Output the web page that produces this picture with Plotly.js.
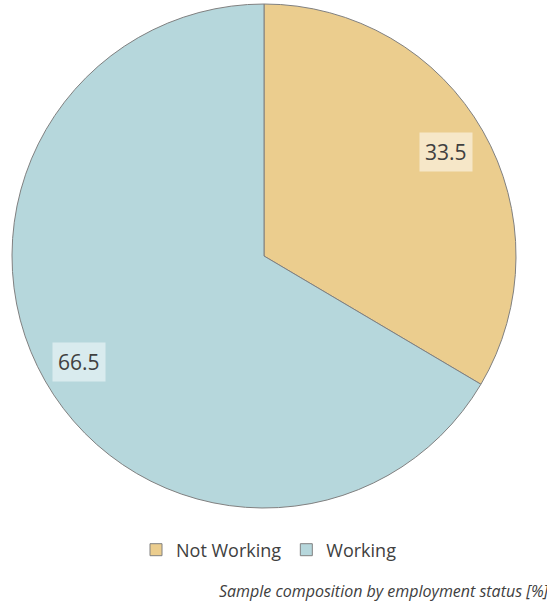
<!DOCTYPE html>
<html>
<head>
<meta charset="utf-8">
<script src="https://cdn.plot.ly/plotly-3.0.1.min.js"></script>
<style>html,body{margin:0;padding:0;background:#fff;}#chart{width:547px;height:606px;}</style>
</head>
<body>
<div id="chart"></div>
<script>
const categories = ["Not Working", "Working"];
const values = [33.5, 66.5];
const sliceColors = ["#EBCD8E", "#B6D7DC"];
const labelBg = ["#F6E7C8", "#D9EBEE"];
const labelRadius = [0.83, 0.845];
const caption = "Sample composition by employment status [%]";

const W = 547, H = 606;
const cx = 264, cy = 256, R = 252;
const FONT = "'Open Sans', sans-serif";

// label annotations positioned at the mid-angle of each slice (clockwise from top)
const total = values.reduce((a, b) => a + b, 0);
let cum = 0;
const annotations = values.map((v, i) => {
  const mid = (cum + v / 2) / total * 2 * Math.PI;
  cum += v;
  const px = cx + Math.sin(mid) * R * labelRadius[i];
  const py = cy - Math.cos(mid) * R * labelRadius[i];
  return {
    x: px / W, y: 1 - py / H, xref: "paper", yref: "paper",
    xanchor: "center", yanchor: "middle",
    text: v.toFixed(1), showarrow: false,
    font: {family: FONT, size: 21, color: "#404040"},
    bgcolor: labelBg[i], borderpad: 5
  };
});
annotations.push({
  x: 217 / W, y: 1 - 591 / H, xref: "paper", yref: "paper",
  xanchor: "left", yanchor: "middle", showarrow: false,
  text: "<i>" + caption + "</i>",
  font: {family: FONT, size: 16, color: "#404040"}
});

const trace = {
  type: "pie",
  labels: categories,
  values: values,
  sort: false,
  direction: "clockwise",
  rotation: 0,
  textinfo: "none",
  hoverinfo: "label+value",
  marker: {colors: sliceColors, line: {color: "#808080", width: 1}},
  domain: {x: [(cx - R) / W, (cx + R) / W], y: [1 - (cy + R) / H, 1 - (cy - R) / H]}
};

const layout = {
  width: W, height: H,
  margin: {l: 0, r: 0, t: 0, b: 0},
  paper_bgcolor: "#fff",
  showlegend: true,
  legend: {
    orientation: "h", x: 269 / W, xanchor: "center", y: 1 - 550 / H, yanchor: "middle",
    font: {family: FONT, size: 18, color: "#404040"}, itemwidth: 30, traceorder: "normal"
  },
  annotations: annotations
};

Plotly.newPlot("chart", [trace], layout, {displayModeBar: false, staticPlot: true});
</script>
</body>
</html>
